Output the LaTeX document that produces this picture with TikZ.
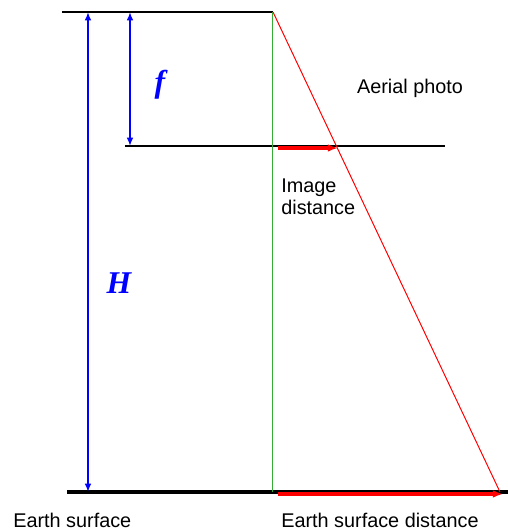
\documentclass[tikz,border=0pt]{standalone}
\usepackage{fontspec}
\setmainfont{Liberation Sans}
\newfontfamily\serifbi{Liberation Serif}
\usetikzlibrary{arrows.meta}
\begin{document}
\begin{tikzpicture}[x=0.6pt,y=-0.6pt,
  lbl/.style={font=\fontsize{11.9}{13.5}\selectfont, inner sep=0pt},
  sym/.style={font=\fontsize{19}{21}\selectfont\serifbi\bfseries\itshape, text=blue, inner sep=0pt},
  dim/.style={blue, line width=1.1pt, {Latex[length=5pt,width=4pt]}-{Latex[length=5pt,width=4pt]}},
  dist/.style={red, line width=2pt, -{Latex[length=6pt,width=4.5pt]}},
  thin/.style={line width=0.8pt}]
\useasboundingbox (0,0) rectangle (508,530);
% coordinates
\coordinate (TL) at (62,12);
\coordinate (L) at (273,12);
\coordinate (G) at (273,492);
\coordinate (R) at (500,492);
\coordinate (ML) at (125,146);
\coordinate (MR) at (445,146);
\coordinate (BL) at (67,492);
\coordinate (BR) at (508,492);
\coordinate (Ht) at (88,12);
\coordinate (Hb) at (88,492);
\coordinate (ft) at (130,12);
\coordinate (fb) at (130,146);
\coordinate (i1) at (278,148);
\coordinate (i2) at (338,148);
\coordinate (e1) at (278,494);
\coordinate (e2) at (503,494);
% lines
\draw[thin] (TL) -- (L);
\draw[thin] (ML) -- (MR);
\draw[line width=2.4pt] (BL) -- (BR);
\draw[green!60!black!80, line width=0.6pt] (L) -- (G);
\draw[red, line width=0.6pt] (L) -- (R);
% dimensions
\draw[dim] (Ht) -- (Hb);
\draw[dim] (ft) -- (fb);
\draw[dist] (i1) -- (i2);
\draw[dist] (e1) -- (e2);
% labels
\node[sym] (f) at (160,85) {f};
\node[sym] (H) at (119,283) {H};
\node[lbl] (ap) at (410,88) {Aerial photo};
\node[lbl, anchor=west, align=left] (id) at (281,197) {Image\\distance};
\node[lbl, anchor=west] (es) at (13,520) {Earth surface};
\node[lbl, anchor=west] (esd) at (281,520) {Earth surface distance};
\end{tikzpicture}
\end{document}
